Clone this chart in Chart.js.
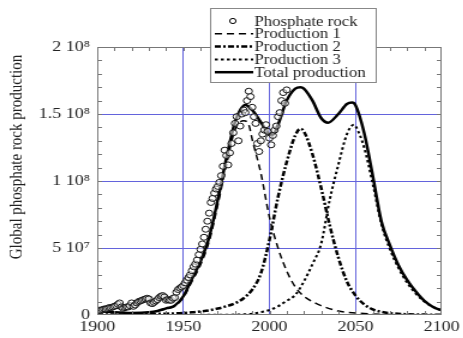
<!DOCTYPE html>
<html>
<head>
<meta charset="utf-8">
<script src="https://cdn.jsdelivr.net/npm/chart.js@4/dist/chart.umd.min.js"></script>
<style>
  html, body { margin: 0; padding: 0; background: #fff; overflow: hidden; }
  /* the reference picture is stretched sideways, so draw narrow and widen it */
  #wrap { width: 386px; height: 338px; transform: scaleX(1.2); transform-origin: 0 0; }
</style>
</head>
<body>
<div id="wrap"><canvas id="chart" width="386" height="338"></canvas></div>
<script>
// Data
const rockYears = [1900,1901,1902,1903,1904,1905,1906,1907,1908,1909,1910,1911,1912,1913,1914,1915,1916,1917,1918,1919,
  1920,1921,1922,1923,1924,1925,1926,1927,1928,1929,1930,1931,1932,1933,1934,1935,1936,1937,1938,1939,
  1940,1941,1942,1943,1944,1945,1946,1947,1948,1949,1950,1951,1952,1953,1954,1955,1956,1957,1958,1959,
  1960,1961,1962,1963,1964,1965,1966,1967,1968,1969,1970,1971,1972,1973,1974,1975,1976,1977,1978,1979,
  1980,1981,1982,1983,1984,1985,1986,1987,1988,1989,1990,1991,1992,1993,1994,1995,1996,1997,1998,1999,
  2000,2001,2002,2003,2004,2005,2006,2007,2008,2009,2010];
const rockValues = [3.0e6,3.5e6,3.5e6,4.0e6,4.5e6,4.5e6,5.0e6,5.5e6,5.5e6,6.0e6,6.5e6,7.0e6,8.0e6,9.0e6,6.0e6,5.0e6,5.5e6,6.0e6,6.0e6,7.0e6,
  9.0e6,6.5e6,7.5e6,9.0e6,10.0e6,10.5e6,11.0e6,11.5e6,12.0e6,12.5e6,12.0e6,9.0e6,8.5e6,9.5e6,10.5e6,11.5e6,13.0e6,14.0e6,14.5e6,13.5e6,
  11.0e6,11.5e6,11.0e6,11.0e6,12.5e6,13.0e6,17.0e6,19.0e6,20.0e6,21.0e6,22.0e6,24.0e6,26.0e6,28.0e6,30.0e6,33.0e6,36.0e6,38.0e6,41.0e6,45.0e6,
  49.0e6,53.0e6,58.0e6,64.0e6,70.0e6,76.0e6,84.0e6,87.0e6,91.0e6,94.0e6,96.0e6,99.0e6,104.0e6,111.0e6,123.0e6,119.0e6,112.0e6,121.0e6,128.0e6,136.0e6,
  143.0e6,148.0e6,130.0e6,141.0e6,150.0e6,153.0e6,151.0e6,160.0e6,167.0e6,163.0e6,155.0e6,148.0e6,143.0e6,128.0e6,122.0e6,130.0e6,135.0e6,138.0e6,142.0e6,137.0e6,
  132.0e6,127.0e6,134.0e6,138.0e6,141.0e6,148.0e6,151.0e6,160.0e6,166.0e6,158.0e6,168.0e6];

const prod1Years  = [1900,1910,1920,1930,1940,1945,1950,1955,1960,1965,1970,1975,1980,1985,1988,1990,1995,2000,2005,2010,2015,2020,2025,2030,2040,2050,2060,2070,2080,2100];
const prod1Values = [3e6,2e6,1.5e6,2e6,4.5e6,6.5e6,1.3e7,2.5e7,3.75e7,5.5e7,8.2e7,1.12e8,1.38e8,1.45e8,1.42e8,1.31e8,1.06e8,7.3e7,5.0e7,3.3e7,2.1e7,1.4e7,1.0e7,7e6,3e6,1.5e6,8e5,4e5,2e5,0];

const prod2Years  = [1900,1920,1940,1950,1955,1960,1965,1970,1975,1980,1985,1990,1995,2000,2005,2010,2015,2018,2020,2025,2030,2035,2040,2045,2050,2055,2060,2065,2070,2080,2090,2100];
const prod2Values = [3e5,5e5,1e6,1.5e6,2.0e6,2.7e6,3.5e6,4.8e6,6.5e6,8.7e6,1.25e7,1.9e7,3.1e7,5.6e7,8.8e7,1.14e8,1.34e8,1.39e8,1.37e8,1.2e8,9.5e7,6.7e7,4.3e7,2.5e7,1.45e7,8e6,4.2e6,2.4e6,1.4e6,6e5,3e5,1e5];

const prod3Years  = [1950,1970,1980,1990,2000,2005,2010,2015,2020,2025,2030,2035,2040,2045,2049,2050,2055,2060,2065,2070,2075,2080,2085,2090,2095,2100];
const prod3Values = [5e4,1.5e5,3e5,1e6,3.7e6,6.5e6,1.05e7,1.5e7,2.5e7,3.8e7,5.3e7,8.6e7,1.12e8,1.35e8,1.42e8,1.41e8,1.25e8,9.8e7,6.8e7,4.9e7,3.5e7,2.4e7,1.6e7,1.0e7,6e6,3.5e6];

const totalYears  = [1900,1910,1920,1930,1935,1940,1945,1950,1955,1960,1965,1970,1975,1980,1983,1986,1990,1995,2000,2002,2005,2010,2015,2018,2020,2025,2030,2034,2040,2045,2048,2050,2055,2060,2065,2070,2075,2080,2085,2090,2095,2100];
const totalValues = [3e6,2e6,1.5e6,2e6,3e6,5e6,7e6,1.4e7,2.7e7,4.0e7,5.8e7,8.6e7,1.17e8,1.44e8,1.53e8,1.567e8,1.53e8,1.44e8,1.35e8,1.345e8,1.42e8,1.6e8,1.69e8,1.70e8,1.69e8,1.6e8,1.47e8,1.435e8,1.5e8,1.575e8,1.585e8,1.565e8,1.36e8,1.04e8,7.0e7,5.2e7,3.7e7,2.6e7,1.75e7,1.05e7,6e6,3.5e6];

const seriesNames = ['Phosphate rock', 'Production 1', 'Production 2', 'Production 3', 'Total production'];
const xTickValues = [1900, 1950, 2000, 2050, 2100];
const yTickValues = [0, 5e7, 1e8, 1.5e8, 2e8];
const yTickLabels = ['0', '5 10\u2077', '1 10\u2078', '1.5 10\u2078', '2 10\u2078'];
const yTitle = 'Global phosphate rock production';

const serif = '"Liberation Serif", "DejaVu Serif", serif';
const gridBlue = '#6363dc';

function pts(xs, ys) {
  return xs.map((x, i) => ({ x: x, y: ys[i] }));
}

// line styles for the curves, also used by the legend
const styles = [
  { dash: [], width: 1 },
  { dash: [6, 4], width: 1.5 },
  { dash: [5, 2, 2, 2], width: 2.5 },
  { dash: [2.5, 2.5], width: 2 },
  { dash: [], width: 2.5 }
];

const curve = (name, xs, ys, st) => ({
  label: name,
  data: pts(xs, ys),
  borderColor: '#000',
  borderWidth: st.width,
  borderDash: st.dash,
  pointRadius: 0,
  fill: false,
  cubicInterpolationMode: 'monotone'
});

// frame, inward minor ticks, rotated y title and the boxed legend
const decorations = {
  id: 'decorations',
  afterDraw(chart) {
    const ctx = chart.ctx;
    const a = chart.chartArea;
    const xs = chart.scales.x, ys = chart.scales.y;
    ctx.save();
    ctx.strokeStyle = '#777';
    ctx.lineWidth = 1;
    ctx.setLineDash([]);
    ctx.strokeRect(a.left + 0.5, a.top + 0.5, a.right - a.left - 1, a.bottom - a.top - 1);

    ctx.beginPath();
    for (let yr = 1910; yr < 2100; yr += 10) {
      const px = Math.round(xs.getPixelForValue(yr)) + 0.5;
      ctx.moveTo(px, a.bottom); ctx.lineTo(px, a.bottom - 4);
      ctx.moveTo(px, a.top); ctx.lineTo(px, a.top + 4);
    }
    for (let v = 1e7; v < 2e8; v += 1e7) {
      const py = Math.round(ys.getPixelForValue(v)) + 0.5;
      ctx.moveTo(a.left, py); ctx.lineTo(a.left + 4, py);
      ctx.moveTo(a.right, py); ctx.lineTo(a.right - 4, py);
    }
    ctx.stroke();

    // y axis title
    ctx.fillStyle = '#222';
    ctx.font = '15px ' + serif;
    ctx.textAlign = 'center';
    ctx.textBaseline = 'middle';
    ctx.translate(14, 157);
    ctx.rotate(-Math.PI / 2);
    ctx.fillText(yTitle, 0, 0);
    ctx.restore();

    // legend
    ctx.save();
    const bx = 175, by = 8, bw = 138, bh = 74;
    ctx.fillStyle = '#fff';
    ctx.fillRect(bx, by, bw, bh);
    ctx.strokeStyle = '#888';
    ctx.lineWidth = 1;
    ctx.strokeRect(bx + 0.5, by + 0.5, bw, bh);
    ctx.font = '14px ' + serif;
    ctx.textAlign = 'left';
    ctx.textBaseline = 'middle';
    ctx.fillStyle = '#222';
    seriesNames.forEach((name, i) => {
      const y = by + 13 + i * 12.8;
      ctx.strokeStyle = '#000';
      if (i === 0) {
        ctx.setLineDash([]);
        ctx.lineWidth = 1;
        ctx.beginPath();
        ctx.arc(194, y, 2.6, 0, Math.PI * 2);
        ctx.stroke();
      } else {
        ctx.setLineDash(styles[i].dash);
        ctx.lineWidth = styles[i].width;
        ctx.beginPath();
        ctx.moveTo(179, y);
        ctx.lineTo(211, y);
        ctx.stroke();
      }
      ctx.fillText(name, 212, y + 1);
    });
    ctx.restore();
  }
};

new Chart(document.getElementById('chart'), {
  type: 'line',
  data: {
    datasets: [
      {
        label: seriesNames[0],
        data: pts(rockYears, rockValues),
        showLine: false,
        pointStyle: 'circle',
        pointRadius: 3,
        pointBorderWidth: 1,
        pointBorderColor: '#111',
        pointBackgroundColor: 'rgba(255,255,255,0.5)',
        order: 0
      },
      curve(seriesNames[1], prod1Years, prod1Values, styles[1]),
      curve(seriesNames[2], prod2Years, prod2Values, styles[2]),
      curve(seriesNames[3], prod3Years, prod3Values, styles[3]),
      curve(seriesNames[4], totalYears, totalValues, styles[4])
    ]
  },
  options: {
    responsive: false,
    animation: false,
    layout: { padding: { top: 47, right: 15, left: 0, bottom: 0 } },
    plugins: { legend: { display: false }, tooltip: { enabled: false } },
    scales: {
      x: {
        type: 'linear',
        min: 1900, max: 2100,
        afterBuildTicks: (s) => { s.ticks = xTickValues.map(v => ({ value: v })); },
        afterFit: (s) => { s.height = 23; },
        ticks: {
          color: '#222', padding: 3, maxRotation: 0, autoSkip: false,
          font: { family: serif, size: 15 },
          callback: (v) => String(v)
        },
        grid: {
          drawTicks: false,
          lineWidth: 1,
          color: (c) => (c.tick && (c.tick.value === 1900 || c.tick.value === 2100)) ? 'rgba(0,0,0,0)' : gridBlue
        },
        border: { display: false }
      },
      y: {
        min: 0, max: 2e8,
        afterBuildTicks: (s) => { s.ticks = yTickValues.map(v => ({ value: v })); },
        afterFit: (s) => { s.width = 81; },
        ticks: {
          color: '#222', padding: 6, autoSkip: false,
          font: { family: serif, size: 15 },
          callback: (v) => yTickLabels[yTickValues.indexOf(v)]
        },
        grid: {
          drawTicks: false,
          lineWidth: 1,
          color: (c) => (c.tick && (c.tick.value === 0 || c.tick.value === 2e8)) ? 'rgba(0,0,0,0)' : gridBlue
        },
        border: { display: false }
      }
    }
  },
  plugins: [decorations]
});
</script>
</body>
</html>
